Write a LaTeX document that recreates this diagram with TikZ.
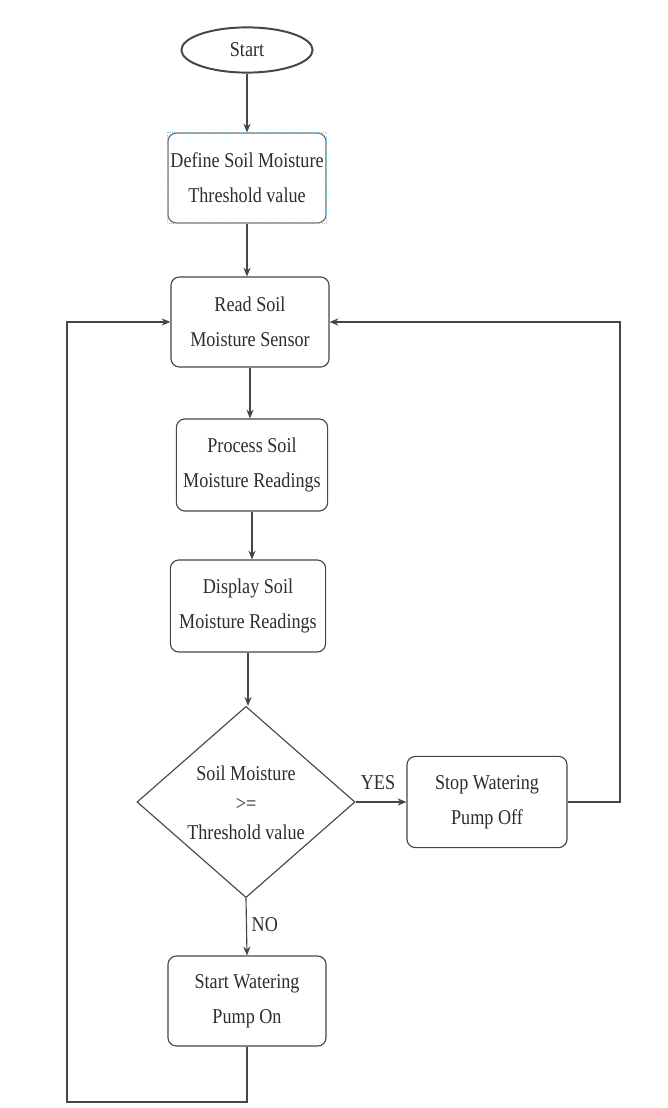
\documentclass[tikz,border=0pt]{standalone}
\usepackage{fontspec}
\setmainfont{Liberation Serif}[Ligatures=TeX]
\newfontfamily\flowfont{Liberation Serif}[FakeStretch=0.86]
\usetikzlibrary{shapes.geometric,arrows.meta}
\definecolor{flowline}{RGB}{70,70,70}
\definecolor{flowtext}{RGB}{45,45,45}
\definecolor{selblue}{RGB}{140,195,225}

\begin{document}
\begin{tikzpicture}[x=0.025cm,y=-0.025cm,>={Stealth[length=2.2mm,width=1.8mm]},
    every node/.style={font=\flowfont\fontsize{15}{25}\selectfont,text=flowtext},
    stepbox/.style={draw=flowline,line width=0.8pt,rounded corners=6pt,
        minimum width=3.95cm,minimum height=2.25cm,align=center,inner sep=1pt},
    flow/.style={draw=flowline,line width=0.8pt,->}]
    \useasboundingbox[fill=white] (0,0) rectangle (667,1108);

    % main column
    \node[ellipse,draw=flowline,line width=1.4pt,minimum width=3.28cm,minimum height=1.13cm] (start) at (247,50) {Start};
    \node[stepbox,draw=flowline!80] (define) at (247,178) {Define Soil Moisture\\Threshold value};
    \draw[selblue,densely dotted,line width=0.6pt] (define.north west) rectangle (define.south east);
    \node[stepbox] (read) at (250,322) {Read Soil\\Moisture Sensor};
    \node[stepbox,minimum width=3.78cm,minimum height=2.3cm] (process) at (252,465) {Process Soil\\Moisture Readings};
    \node[stepbox,minimum width=3.88cm,minimum height=2.3cm] (display) at (248,606) {Display Soil\\Moisture Readings};
    \node[diamond,draw=flowline,line width=0.8pt,inner sep=0pt,minimum width=5.45cm,minimum height=4.78cm] (check) at (246,802) {};
    \node[align=center] (checktext) at (246,803) {Soil Moisture\\[-4pt]{>=}\\[-4pt]Threshold value};
    \node[stepbox,minimum width=4cm,minimum height=2.28cm] (stop) at (487,802) {Stop Watering\\Pump Off};
    \node[stepbox] (water) at (247,1001) {Start Watering\\Pump On};

    % loop corners
    \coordinate (rloop) at (620,802);
    \coordinate (lloop) at (67,1102);

    % connectors
    \draw[flow] (start) -- (define);
    \draw[flow] (define.south) -- (define.south |- read.north);
    \draw[flow] (read.south) -- (read.south |- process.north);
    \draw[flow] (process.south) -- (process.south |- display.north);
    \draw[flow] (display.south) -- (display.south |- check.north);
    \draw[flow] (check.east) -- node[above=5pt,pos=0.44]{YES} (stop.west);
    \draw[flow] (check.south) -- node[right,pos=0.47]{NO} (water.north);
    \draw[flow] (stop.east) -- (rloop) |- (read.east);
    \draw[flow] (water.south) |- (lloop) |- (read.west);
\end{tikzpicture}
\end{document}
